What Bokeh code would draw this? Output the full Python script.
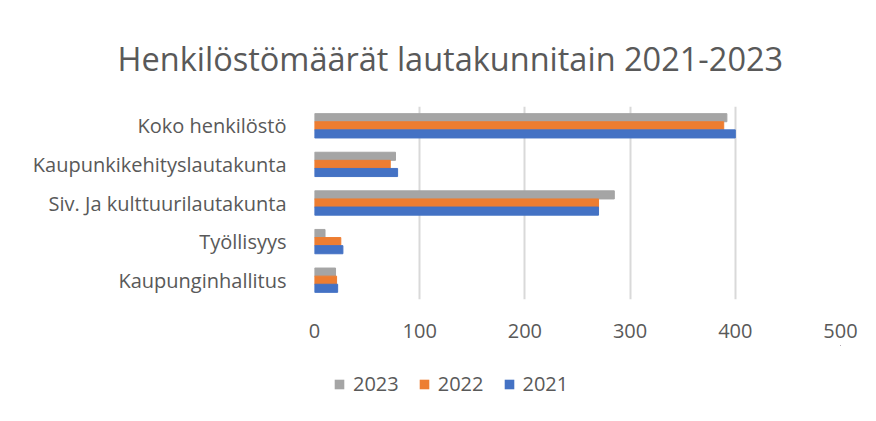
from bokeh.plotting import figure
from bokeh.models import ColumnDataSource, Legend, LegendItem, FactorRange
from bokeh.layouts import column
from bokeh.transform import dodge
from bokeh.embed import file_html
from bokeh.resources import INLINE

categories = ["Kaupunginhallitus", "Työllisyys", "Siv. Ja kulttuurilautakunta",
              "Kaupunkikehityslautakunta", "Koko henkilöstö"]
v2021 = [22, 27, 270, 79, 400]
v2022 = [21, 25, 270, 72, 389]
v2023 = [20, 10, 285, 77, 392]
series_labels = ["2023", "2022", "2021"]
series_fields = ["v2023", "v2022", "v2021"]
series_colors = ["#A5A5A5", "#ED7D31", "#4472C4"]
x_ticks = [0, 100, 200, 300, 400, 500]
title_text = "Henkilöstömäärät lautakunnitain 2021-2023"

FONT = "Open Sans"
TXT = "#595959"

src = ColumnDataSource(dict(cat=categories, v2021=v2021, v2022=v2022, v2023=v2023))

p = figure(width=868, height=345, y_range=FactorRange(*categories), x_range=(0, 500),
           output_backend="svg", toolbar_location=None,
           min_border_left=314, min_border_right=28, min_border_top=106, min_border_bottom=46)

h = 0.21
p.hbar(y=dodge("cat", h, range=p.y_range), right="v2023", height=h, left=0,
       source=src, color=series_colors[0])
p.hbar(y=dodge("cat", 0, range=p.y_range), right="v2022", height=h, left=0,
       source=src, color=series_colors[1])
p.hbar(y=dodge("cat", -h, range=p.y_range), right="v2021", height=h, left=0,
       source=src, color=series_colors[2])

p.title.text = title_text
p.title.align = "left"
p.title.offset = -197
p.title.text_font = FONT
p.title.text_font_size = "32.5px"
p.title.text_color = TXT
p.title.text_font_style = "normal"
p.title.standoff = 52

p.outline_line_color = None
p.background_fill_color = "white"
p.border_fill_color = "white"

p.xaxis.ticker = x_ticks
p.xaxis.axis_line_color = None
p.xaxis.major_tick_line_color = None
p.xaxis.minor_tick_line_color = None
p.xaxis.major_label_text_font = FONT
p.xaxis.major_label_text_font_size = "20px"
p.xaxis.major_label_text_color = TXT
p.xaxis.major_label_standoff = 18

p.yaxis.axis_line_color = None
p.yaxis.major_tick_line_color = None
p.yaxis.major_label_text_font = FONT
p.yaxis.major_label_text_font_size = "20px"
p.yaxis.major_label_text_color = TXT
p.yaxis.major_label_standoff = 22

p.ygrid.grid_line_color = None
p.xgrid.ticker = x_ticks
p.xgrid.grid_line_color = "#d9d9d9"
p.xgrid.grid_line_width = 2

# legend strip below the chart; its bars lie far outside this strip's view,
# so only the legend swatches are seen
p2 = figure(width=868, height=60, x_range=(-2, -1), y_range=(-2, -1),
            output_backend="svg", toolbar_location=None,
            min_border_left=0, min_border_right=0, min_border_top=0, min_border_bottom=0)
p2.axis.visible = False
p2.grid.grid_line_color = None
p2.outline_line_color = None
items = []
for lab, fld, col in zip(series_labels, series_fields, series_colors):
    r = p2.hbar(y=fld, right=fld, left=0, height=0.1, source=src,
                fill_color=col, line_color=None)
    items.append(LegendItem(label=lab, renderers=[r]))
legend = Legend(items=items, orientation="horizontal", location=(19, 8),
                label_text_font=FONT, label_text_font_size="20px", label_text_color=TXT,
                glyph_width=12, glyph_height=12, label_height=20, spacing=19, label_standoff=8,
                border_line_color=None, background_fill_alpha=0, margin=0, padding=0)
p2.add_layout(legend)

open("out.html", "w").write(file_html(column(p, p2, spacing=0), INLINE))
